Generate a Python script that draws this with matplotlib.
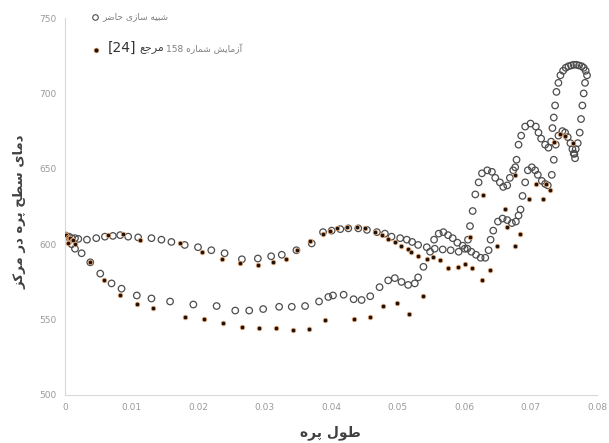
import numpy as np
import matplotlib
matplotlib.use("Agg")
import matplotlib.pyplot as plt
from matplotlib.ticker import FuncFormatter

# ---- data ----
# simulation (open circles), branch running along the upper curve from x=0
sim_a_x = [0, 0.0003, 0.0006, 0.001, 0.0015, 0.002, 0.0033, 0.0047, 0.006, 0.0072,
           0.0083, 0.0095, 0.011, 0.013, 0.0145, 0.016, 0.018, 0.020, 0.022, 0.024,
           0.0266, 0.029, 0.031, 0.0326, 0.0348, 0.0371, 0.0388, 0.0401, 0.0414, 0.0426,
           0.0441, 0.0454, 0.0469, 0.0481, 0.0491, 0.0504, 0.0514, 0.0522, 0.0531, 0.0544,
           0.0556, 0.0568, 0.058, 0.0592, 0.0601, 0.0606, 0.0609, 0.0613, 0.0617, 0.0622,
           0.0627, 0.0635, 0.0642, 0.0647, 0.0654, 0.0659, 0.0665, 0.0669, 0.0674, 0.0677,
           0.0679, 0.0682, 0.0686, 0.0692, 0.0700, 0.0708, 0.0712, 0.0716, 0.0722, 0.0727,
           0.0731, 0.0733, 0.0735, 0.0737, 0.0739, 0.0742, 0.0745, 0.0749, 0.0753, 0.0757,
           0.0761, 0.0765, 0.0769, 0.0773, 0.0777, 0.0780, 0.0783, 0.0785, 0.0782, 0.0780,
           0.0778, 0.0776, 0.0774, 0.0771, 0.0768, 0.0766]
sim_a_y = [606, 605, 605, 604, 604, 603.5, 603, 604, 605, 605.5,
           606, 605, 604.5, 604, 603, 601.5, 599.5, 598, 596, 594,
           590, 590.5, 592, 593, 596, 600.5, 608, 609, 610, 610.5,
           610.5, 609.5, 608, 607, 605, 604, 603, 601.5, 599.5, 598,
           597, 596.5, 596, 595, 597, 603, 612, 622, 633, 641,
           647, 649, 648, 644, 641, 638, 639, 644, 649, 651,
           656, 666, 672, 678, 680, 678, 674, 670, 666, 664,
           668, 677, 684, 692, 701, 707, 712, 715, 717, 718,
           718.5, 719, 719, 718.5, 718, 717, 715, 712, 707, 700,
           692, 683, 674, 667, 663, 660]

# simulation, branch running along the lower curve from x=0
sim_b_x = [0.0005, 0.001, 0.0015, 0.0025, 0.0038, 0.0053, 0.007, 0.0085, 0.0108, 0.013,
           0.0158, 0.0193, 0.0228, 0.0256, 0.0277, 0.0298, 0.0322, 0.0341, 0.0361, 0.0382,
           0.0396, 0.0403, 0.0419, 0.0434, 0.0446, 0.0459, 0.0473, 0.0486, 0.0496, 0.0506,
           0.0516, 0.0526, 0.0531, 0.0539, 0.0549, 0.0555, 0.0562, 0.0569, 0.0576, 0.0583,
           0.059, 0.0598, 0.0605, 0.0611, 0.0618, 0.0625, 0.0632, 0.0637, 0.064, 0.0644,
           0.0651, 0.0658, 0.0665, 0.0672, 0.0678, 0.0682, 0.0685, 0.0688, 0.0692, 0.0696,
           0.0702, 0.0707, 0.0711, 0.0717, 0.0722, 0.0726, 0.0732, 0.0735, 0.0738, 0.0742,
           0.0748, 0.0752, 0.0756, 0.076, 0.0763, 0.0765, 0.0767]
sim_b_y = [602, 600, 597, 594, 588, 580.5, 574, 570.5, 566, 564,
           562, 560, 559, 556, 556, 557, 558.5, 558.5, 559, 562,
           565, 566, 566.5, 563.5, 563, 565.5, 571.5, 576, 577.5, 575,
           573, 574, 578, 585, 595, 603, 607, 608, 606, 604,
           601, 599, 597, 595, 593, 591, 591, 596, 603, 609,
           615, 617, 616, 614, 615, 619, 623, 632, 641, 649,
           651, 649, 646, 642, 640, 639, 646, 656, 666, 672,
           675, 674, 671, 667, 663, 660, 657]

# experiment, ref [24] (filled dots)
exp_x = [0, 0.0002, 0.0004, 0.0006, 0.0008, 0.001, 0.0012, 0.0005, 0.0015,
         0.0065, 0.0087, 0.0113, 0.0173, 0.0206, 0.0236, 0.0263, 0.029, 0.0313, 0.0333,
         0.0349, 0.0369, 0.0388, 0.0398, 0.0409, 0.0424, 0.0439, 0.0451, 0.0466, 0.0476,
         0.0486, 0.0496, 0.0506, 0.0516, 0.0521, 0.0531, 0.0544, 0.0554, 0.0564, 0.0576,
         0.0591, 0.0602, 0.0612, 0.0627, 0.0639, 0.0609, 0.0629, 0.065, 0.0662, 0.0664,
         0.0677, 0.0684, 0.0677, 0.0697, 0.0709, 0.0719, 0.0724, 0.0729, 0.0735, 0.0745,
         0.0752, 0.0764,
         0.0038, 0.0058, 0.0083, 0.0108, 0.0133, 0.018, 0.0209, 0.0238, 0.0266, 0.0292,
         0.0318, 0.0343, 0.0367, 0.0391, 0.0434, 0.0458, 0.0478, 0.0499, 0.0517, 0.0539]
exp_y = [607, 606, 605, 604, 604, 603, 603, 601, 600,
         606, 606.5, 603, 600.5, 595, 590.5, 587.5, 586.5, 588.5, 590.5,
         596, 602, 607, 609, 610.5, 611.5, 611.5, 610.5, 608, 606,
         603.5, 601.5, 599, 597, 595, 592, 590.5, 591.5, 589.5, 584,
         585, 587, 584, 576, 583, 605, 632.5, 599, 623.5, 611.5,
         599, 607, 646, 630, 640, 630, 640, 636, 668, 673,
         672, 667,
         588, 576, 566, 560.5, 557.5, 552, 550.5, 547.5, 545, 544.5,
         544.5, 543, 544, 549.5, 550.5, 552, 559, 561, 554, 565.5]

x_ticks = [0, 0.01, 0.02, 0.03, 0.04, 0.05, 0.06, 0.07, 0.08]
y_ticks = [500, 550, 600, 650, 700, 750]

x_label = "طول پره"
y_label = "دمای سطح پره در مرکز"
sim_label = "شبیه سازی حاضر"
exp_label = "آزمایش شماره 158"
ref_word = "مرجع"
ref_num = "[24]"

# ---- tiny Arabic/Persian shaping (matplotlib does not join letters) ----
# letter: (isolated, final, initial, medial)
FORMS = {
    'ا': ('\uFE8D', '\uFE8E', None, None),
    'آ': ('\uFE81', '\uFE82', None, None),
    'د': ('\uFEA9', '\uFEAA', None, None),
    'ر': ('\uFEAD', '\uFEAE', None, None),
    'ز': ('\uFEAF', '\uFEB0', None, None),
    'و': ('\uFEED', '\uFEEE', None, None),
    'ب': ('\uFE8F', '\uFE90', '\uFE91', '\uFE92'),
    'پ': ('\uFB56', '\uFB57', '\uFB58', '\uFB59'),
    'ج': ('\uFE9D', '\uFE9E', '\uFE9F', '\uFEA0'),
    'ح': ('\uFEA1', '\uFEA2', '\uFEA3', '\uFEA4'),
    'س': ('\uFEB1', '\uFEB2', '\uFEB3', '\uFEB4'),
    'ش': ('\uFEB5', '\uFEB6', '\uFEB7', '\uFEB8'),
    'ض': ('\uFEBD', '\uFEBE', '\uFEBF', '\uFEC0'),
    'ط': ('\uFEC1', '\uFEC2', '\uFEC3', '\uFEC4'),
    'ع': ('\uFEC9', '\uFECA', '\uFECB', '\uFECC'),
    'ک': ('\uFB8E', '\uFB8F', '\uFB90', '\uFB91'),
    'ل': ('\uFEDD', '\uFEDE', '\uFEDF', '\uFEE0'),
    'م': ('\uFEE1', '\uFEE2', '\uFEE3', '\uFEE4'),
    'ه': ('\uFEE9', '\uFEEA', '\uFEEB', '\uFEEC'),
    'ی': ('\uFBFC', '\uFBFD', '\uFBFE', '\uFBFF'),
}


def shape_word(w):
    out = []
    for i, c in enumerate(w):
        if c not in FORMS:
            out.append(c)
            continue
        prev = w[i - 1] if i > 0 else None
        nxt = w[i + 1] if i + 1 < len(w) else None
        jp = prev in FORMS and FORMS[prev][2] is not None
        jn = FORMS[c][2] is not None and nxt in FORMS
        iso, fin, ini, med = FORMS[c]
        out.append(med if (jp and jn) else fin if jp else ini if jn else iso)
    return ''.join(out)


def rtl(text):
    vis = []
    for w in text.split(' '):
        if any(ch in FORMS for ch in w):
            vis.append(shape_word(w)[::-1])
        else:
            vis.append(w)
    return ' '.join(reversed(vis))


# ---- figure ----
W, H = 609, 443
fig = plt.figure(figsize=(W / 100, H / 100), dpi=100)
ax = fig.add_axes([65 / W, 1 - 395 / H, 532 / W, 377 / H])

ax.scatter(sim_a_x, sim_a_y, s=22, facecolors='none', edgecolors='#4d4d4d',
           linewidths=0.9, zorder=2)
ax.scatter(sim_b_x, sim_b_y, s=22, facecolors='none', edgecolors='#4d4d4d',
           linewidths=0.9, zorder=2)
ax.scatter(exp_x, exp_y, s=11, facecolors='#1e1208', edgecolors='#e3a676',
           linewidths=0.6, zorder=3)

ax.set_xlim(0, 0.08)
ax.set_ylim(500, 750)
ax.set_xticks(x_ticks)
ax.set_yticks(y_ticks)
ax.xaxis.set_major_formatter(FuncFormatter(lambda v, _: '0' if v == 0 else f'{v:.2f}'))
ax.tick_params(length=0, labelsize=6.5, colors='#9a9a9a', pad=6)
for s in ['top', 'right']:
    ax.spines[s].set_visible(False)
for s in ['left', 'bottom']:
    ax.spines[s].set_color('#d9d9d9')
    ax.spines[s].set_linewidth(0.8)

# axis titles
fig.text(330 / W, 1 - 433 / H, rtl(x_label), ha='center', va='center',
         fontsize=10, fontweight='bold', color='#404040', family='DejaVu Sans')
fig.text(20 / W, 1 - 212 / H, rtl(y_label), ha='center', va='center', rotation=90,
         fontsize=9.5, fontweight='bold', color='#404040', family='DejaVu Sans')

# legend (drawn by hand: the second entry mixes sizes)
fig.lines.append(plt.Line2D([95 / W], [1 - 17 / H], transform=fig.transFigure,
                            marker='o', ms=4, mfc='none', mec='#4d4d4d', mew=0.8, ls=''))
fig.text(102 / W, 1 - 17 / H, rtl(sim_label), ha='left', va='center',
         fontsize=6.5, color='#7f7f7f', family='DejaVu Sans')
fig.lines.append(plt.Line2D([96 / W], [1 - 50 / H], transform=fig.transFigure,
                            marker='o', ms=3.5, mfc='#1e1208', mec='#e3a676', mew=0.5, ls=''))
fig.text(108 / W, 1 - 48 / H, ref_num, ha='left', va='center',
         fontsize=10, color='#333333', family='DejaVu Sans')
fig.text(139 / W, 1 - 49 / H, rtl(ref_word), ha='left', va='center',
         fontsize=8, color='#404040', family='DejaVu Sans')
fig.text(166 / W, 1 - 49 / H, rtl(exp_label), ha='left', va='center',
         fontsize=6.5, color='#7f7f7f', family='DejaVu Sans')

fig.savefig('out.png', dpi=100)
